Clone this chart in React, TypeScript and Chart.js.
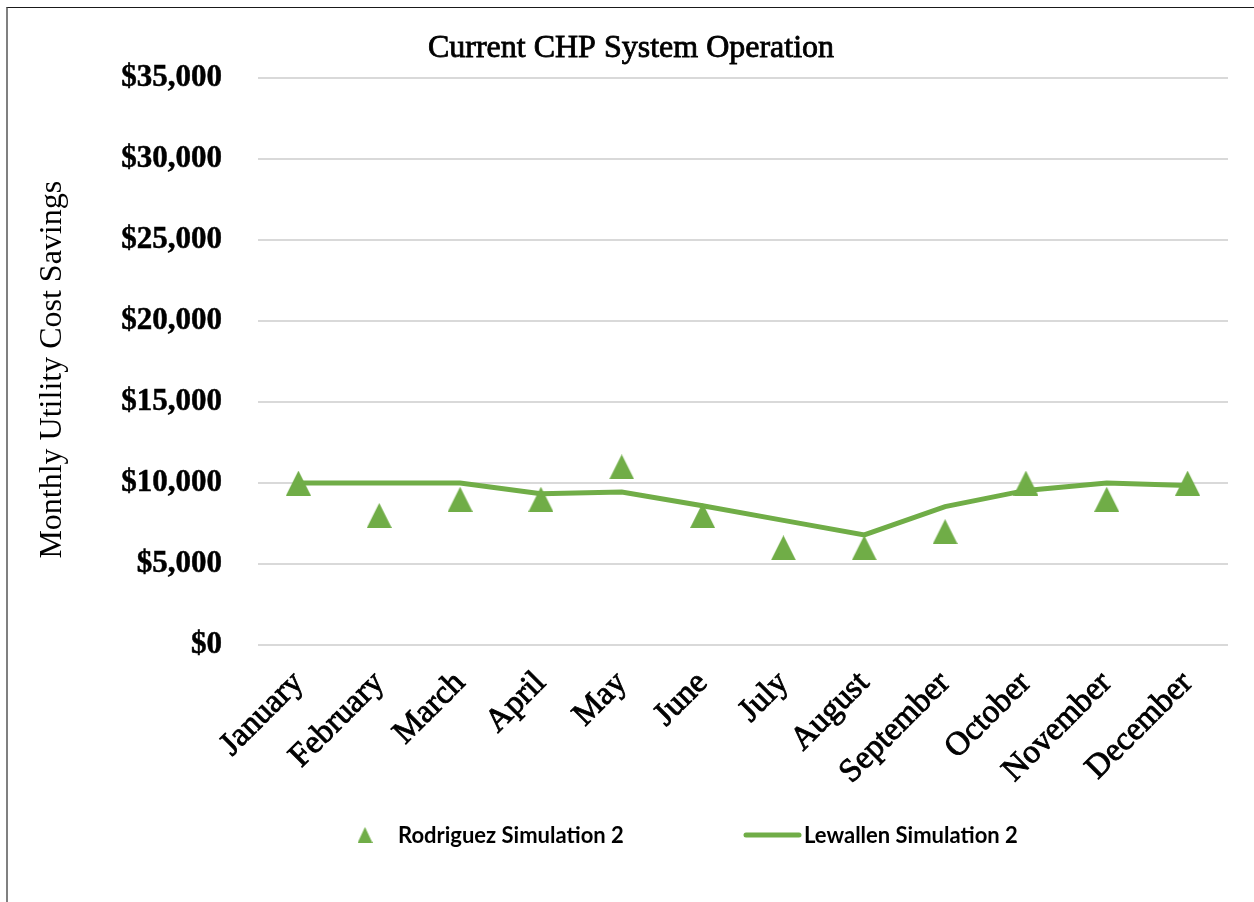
import React, { useEffect, useRef } from "react";
import { Chart, registerables } from "chart.js";

Chart.register(...registerables);

// ---------- data ----------
const months = [
  "January",
  "February",
  "March",
  "April",
  "May",
  "June",
  "July",
  "August",
  "September",
  "October",
  "November",
  "December",
];
const rodriguezSim2 = [10000, 8000, 9000, 9000, 11000, 8000, 6000, 6000, 7000, 10000, 9000, 10000];
const lewallenSim2 = [10000, 10000, 10000, 9350, 9450, 8600, 7700, 6800, 8550, 9550, 10000, 9850];
const seriesNames = ["Rodriguez Simulation 2", "Lewallen Simulation 2"];
const chartTitle = "Current CHP System Operation";
const yAxisTitle = "Monthly Utility Cost Savings";
const yMin = 0;
const yMax = 35000;
const yStep = 5000;

const GREEN = "#70ad47";
const SERIF = "'Liberation Serif', 'Times New Roman', serif";
const TITLE_SIZE = 32;

function makeTriangle(w: number, h: number, color: string) {
  const c = document.createElement("canvas");
  c.width = w;
  c.height = h;
  const g = c.getContext("2d")!;
  g.fillStyle = color;
  g.beginPath();
  g.moveTo(w / 2, 0);
  g.lineTo(w, h);
  g.lineTo(0, h);
  g.closePath();
  g.fill();
  return c;
}

export default function App() {
  const ref = useRef<HTMLCanvasElement | null>(null);

  useEffect(() => {
    if (!ref.current) return;
    const tri = makeTriangle(25, 25, GREEN);
    const legendTri = makeTriangle(15, 16, GREEN);

    const legendPlugin = {
      id: "customLegend",
      afterDraw(chart: any) {
        const ctx = chart.ctx as CanvasRenderingContext2D;
        const ds = chart.data.datasets;
        const y = 827;
        ctx.save();
        // outline the title a little (as in the reference rendering)
        const tb = chart.titleBlock;
        if (tb) {
          ctx.font = `normal ${TITLE_SIZE}px ${SERIF}`;
          ctx.textAlign = "center";
          ctx.textBaseline = "middle";
          ctx.strokeStyle = "#000";
          ctx.lineWidth = 0.8;
          const ty = tb.top + 21 + (TITLE_SIZE * 1.2) / 2;
          ctx.strokeText(chartTitle, (tb.left + tb.right) / 2, ty);
        }
        ctx.font = "700 22px Lato, 'Open Sans', sans-serif";
        ctx.fillStyle = "#000";
        ctx.textBaseline = "middle";
        ctx.textAlign = "left";
        // item 1: triangle marker
        ctx.drawImage(legendTri, 357 - legendTri.width / 2, y - legendTri.height / 2);
        ctx.fillText(ds[0].label, 390, y + 1);
        // item 2: line
        ctx.strokeStyle = ds[1].borderColor;
        ctx.lineWidth = 5;
        ctx.lineCap = "round";
        ctx.beginPath();
        ctx.moveTo(738, y);
        ctx.lineTo(791, y);
        ctx.stroke();
        ctx.fillText(ds[1].label, 796, y + 1);
        ctx.restore();
      },
    };

    const chart = new Chart(ref.current, {
      type: "line",
      data: {
        labels: months,
        datasets: [
          {
            label: seriesNames[0],
            data: rodriguezSim2,
            showLine: false,
            pointStyle: tri as any,
            pointRadius: 12,
            pointHoverRadius: 12,
            borderColor: GREEN,
            backgroundColor: GREEN,
            order: 2,
          },
          {
            label: seriesNames[1],
            data: lewallenSim2,
            borderColor: GREEN,
            backgroundColor: GREEN,
            borderWidth: 5,
            pointRadius: 0,
            pointHoverRadius: 0,
            tension: 0,
            fill: false,
            order: 1,
          },
        ],
      },
      options: {
        responsive: false,
        animation: false,
        events: [],
        layout: { padding: { left: 0, right: 0, top: 0, bottom: 0 } },
        plugins: {
          legend: { display: false },
          tooltip: { enabled: false },
          title: {
            display: true,
            text: chartTitle,
            color: "#000",
            font: { family: SERIF, size: TITLE_SIZE, weight: "normal", lineHeight: 1.2 },
            padding: { top: 21, bottom: 11 },
          },
        },
        scales: {
          x: {
            offset: true,
            grid: { display: false, drawTicks: false },
            border: { display: false },
            ticks: {
              autoSkip: false,
              maxRotation: 45,
              minRotation: 45,
              padding: 19,
              color: "#000",
              textStrokeColor: "#000",
              textStrokeWidth: 0.9,
              font: { family: SERIF, size: 33, weight: "normal", lineHeight: 1.2 },
            },
            afterFit: (scale: any) => {
              scale.height = 257;
            },
          },
          y: {
            min: yMin,
            max: yMax,
            grid: { color: "#d9d9d9", lineWidth: 2, drawTicks: false },
            border: { display: false },
            ticks: {
              stepSize: yStep,
              padding: 36,
              color: "#000",
              textStrokeColor: "#000",
              textStrokeWidth: 0.5,
              font: { family: SERIF, size: 31, weight: "bold", lineHeight: 1.2 },
              callback: (v: any) => "$" + Number(v).toLocaleString("en-US"),
            },
            title: {
              display: true,
              text: yAxisTitle + "  ",
              color: "#000",
              font: { family: SERIF, size: 32, weight: "normal", lineHeight: 1.2 },
              padding: { top: 25, bottom: 0 },
            },
            afterFit: (scale: any) => {
              scale.width = 250;
            },
          },
          yRightSpacer: {
            type: "linear",
            position: "right",
            display: true,
            grid: { display: false, drawTicks: false },
            border: { display: false },
            ticks: { display: false },
            afterFit: (scale: any) => {
              scale.width = 26;
            },
          },
        },
      },
      plugins: [legendPlugin],
    });

    return () => chart.destroy();
  }, []);

  return (
    <div
      style={{
        position: "fixed",
        left: 0,
        top: 0,
        width: 1254,
        height: 902,
        background: "#fff",
        overflow: "hidden",
      }}
    >
      <div
        style={{
          position: "absolute",
          left: 6,
          top: 7,
          width: 1260,
          height: 900,
          borderTop: "1px solid #1a1a1a",
          borderLeft: "2px solid #808080",
        }}
      />
      <canvas
        ref={ref}
        width={1246}
        height={894}
        style={{ position: "absolute", left: 8, top: 8, width: 1246, height: 894 }}
      />
    </div>
  );
}
